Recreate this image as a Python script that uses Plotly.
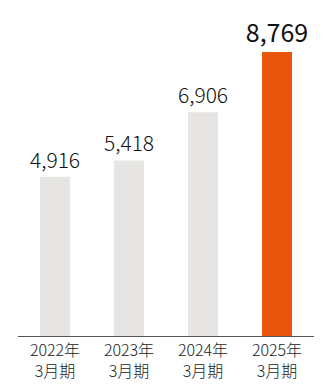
import plotly.graph_objects as go

categories = ["2022年<br>3月期", "2023年<br>3月期", "2024年<br>3月期", "2025年<br>3月期"]
values = [4916, 5418, 6906, 8769]
labels = ["4,916", "5,418", "6,906", "8,769"]
colors = ["#e6e5e3", "#e6e5e3", "#e6e5e3", "#e9550a"]
label_sizes = [21, 21, 21, 25]
label_weights = [300, 300, 300, 400]

FONT = "Noto Sans CJK JP, Noto Sans, sans-serif"

fig = go.Figure()
fig.add_trace(go.Bar(
    x=categories,
    y=values,
    marker=dict(color=colors, line=dict(width=0)),
    text=labels,
    textposition="outside",
    constraintext="none",
    textfont=dict(size=label_sizes, color="#111111", family=FONT, weight=label_weights),
    cliponaxis=False,
    hoverinfo="skip",
))

fig.update_layout(
    width=332,
    height=386,
    margin=dict(l=18, r=18, t=12, b=50, autoexpand=False),
    paper_bgcolor="white",
    plot_bgcolor="white",
    bargap=0.595,
    showlegend=False,
    font=dict(family=FONT, color="#222222"),
)
fig.update_xaxes(
    showline=True, linecolor="#555555", linewidth=1, automargin=False,
    ticks="", tickfont=dict(size=16, color="#222222", family=FONT, weight=300),
    showgrid=False,
)
fig.update_yaxes(
    range=[0, 10000], visible=False, showgrid=False, zeroline=False, automargin=False,
)

fig.write_html("out.html")
